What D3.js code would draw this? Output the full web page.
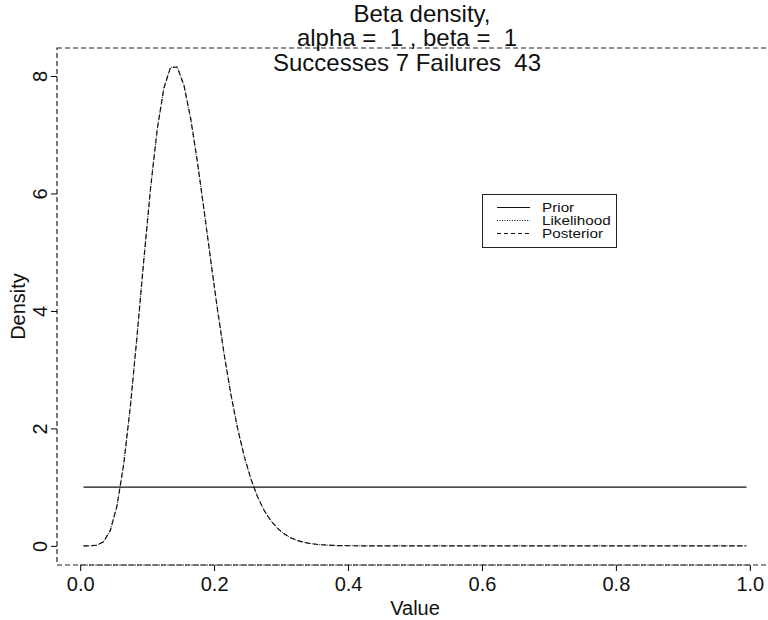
<!DOCTYPE html>
<html>
<head>
    <meta charset="utf-8">
    <title></title>
    <style>
        body { margin: 0; background: #fff; }
        text {
            font-family: "Liberation Sans", Arial, sans-serif;
            fill: #111;
        }
    </style>
</head>
<body>
    <script src="https://cdn.jsdelivr.net/npm/d3@7"></script>
    <script>
        // grid of values the density was evaluated on
        var xValues = [
            0.005, 0.015, 0.025, 0.035, 0.045, 0.055, 0.065, 0.075, 0.085, 0.095,
            0.105, 0.115, 0.125, 0.135, 0.145, 0.155, 0.165, 0.175, 0.185, 0.195,
            0.205, 0.215, 0.225, 0.235, 0.245, 0.255, 0.265, 0.275, 0.285, 0.295,
            0.305, 0.315, 0.325, 0.335, 0.345, 0.355, 0.365, 0.375, 0.385, 0.395,
            0.405, 0.415, 0.425, 0.435, 0.445, 0.455, 0.465, 0.475, 0.485, 0.495,
            0.505, 0.515, 0.525, 0.535, 0.545, 0.555, 0.565, 0.575, 0.585, 0.595,
            0.605, 0.615, 0.625, 0.635, 0.645, 0.655, 0.665, 0.675, 0.685, 0.695,
            0.705, 0.715, 0.725, 0.735, 0.745, 0.755, 0.765, 0.775, 0.785, 0.795,
            0.805, 0.815, 0.825, 0.835, 0.845, 0.855, 0.865, 0.875, 0.885, 0.895,
            0.905, 0.915, 0.925, 0.935, 0.945, 0.955, 0.965, 0.975, 0.985, 0.995
        ];
        var posterior = [
            0, 0.0005, 0.011, 0.071, 0.263, 0.681, 1.388, 2.380, 3.582, 4.864,
            6.078, 7.088, 7.795, 8.149, 8.151, 7.839, 7.277, 6.544, 5.716, 4.859,
            4.028, 3.262, 2.584, 2.004, 1.524, 1.136, 0.832, 0.598, 0.423, 0.294,
            0.201, 0.135, 0.089, 0.058, 0.037, 0.023, 0.015, 0.009, 0.005, 0.003,
            0.002, 0.001, 0, 0, 0, 0, 0, 0, 0, 0,
            0, 0, 0, 0, 0, 0, 0, 0, 0, 0,
            0, 0, 0, 0, 0, 0, 0, 0, 0, 0,
            0, 0, 0, 0, 0, 0, 0, 0, 0, 0,
            0, 0, 0, 0, 0, 0, 0, 0, 0, 0,
            0, 0, 0, 0, 0, 0, 0, 0, 0, 0
        ];
        // flat prior, so the scaled likelihood sits on the posterior
        var likelihood = posterior.slice();
        var priorX = [0.005, 0.995];
        var prior = [1, 1];

        var xTicks = [0, 0.2, 0.4, 0.6, 0.8, 1.0];
        var yTicks = [0, 2, 4, 6, 8];
        var titleLines = ["Beta density,", "alpha =  1 , beta =  1", "Successes 7 Failures  43"];
        var legendNames = ["Prior", "Likelihood", "Posterior"];
        var legendDash = [null, "1,1.5", "4,3"];

        var width = 768,
            height = 620;
        var box = { left: 57, right: 773, top: 48, bottom: 565 };

        var svg = d3.select("body").append("svg")
            .attr("width", width)
            .attr("height", height);

        // R style: 4% padding around the data range
        var x = d3.scaleLinear().domain([-0.0346, 1.0346]).range([box.left, box.right]);
        var y = d3.scaleLinear().domain([-0.326, 8.477]).range([box.bottom, box.top]);

        var line = d3.line()
            .x(function(d) { return x(d[0]); })
            .y(function(d) { return y(d[1]); });

        // plot frame
        svg.append("rect")
            .attr("x", box.left)
            .attr("y", box.top)
            .attr("width", box.right - box.left)
            .attr("height", box.bottom - box.top)
            .attr("fill", "none")
            .attr("stroke", "#222")
            .attr("stroke-width", 1.2)
            .attr("stroke-dasharray", "5,3");

        // x axis
        var xAxis = svg.append("g")
            .attr("transform", "translate(0," + box.bottom + ")")
            .call(d3.axisBottom(x).tickValues(xTicks).tickSize(6).tickPadding(6)
                .tickFormat(d3.format(".1f")));
        xAxis.select(".domain")
            .attr("d", "M" + x(0) + ",0H" + x(1))
            .attr("stroke", "#333")
            .attr("stroke-width", 1.2)
            .attr("stroke-dasharray", "2,1");
        xAxis.selectAll(".tick text")
            .attr("font-size", 20)
            .attr("font-family", "Liberation Sans, Arial, sans-serif")
            .attr("fill", "#111");

        // y axis
        var yAxis = svg.append("g")
            .attr("transform", "translate(" + box.left + ",0)")
            .call(d3.axisLeft(y).tickValues(yTicks).tickSize(6).tickFormat(d3.format("d")));
        yAxis.select(".domain").remove();
        yAxis.selectAll(".tick text")
            .attr("font-size", 20)
            .attr("font-family", "Liberation Sans, Arial, sans-serif")
            .attr("fill", "#111")
            .attr("text-anchor", "middle")
            .attr("dy", null)
            .attr("x", null)
            .attr("transform", "translate(-10,0) rotate(-90)");

        // curves
        var postPts = xValues.map(function(v, i) { return [v, posterior[i]]; });
        var likePts = xValues.map(function(v, i) { return [v, likelihood[i]]; });
        var priorPts = priorX.map(function(v, i) { return [v, prior[i]]; });

        svg.append("path")
            .datum(priorPts)
            .attr("d", line)
            .attr("fill", "none")
            .attr("stroke", "#111")
            .attr("stroke-width", 1.2);
        svg.append("path")
            .datum(likePts)
            .attr("d", line)
            .attr("fill", "none")
            .attr("stroke", "#222")
            .attr("stroke-width", 1)
            .attr("stroke-dasharray", "1,1.5");
        svg.append("path")
            .datum(postPts)
            .attr("d", line)
            .attr("fill", "none")
            .attr("stroke", "#111")
            .attr("stroke-width", 1.2)
            .attr("stroke-dasharray", "5,3");

        // titles
        var titleX = [422, 407, 407];
        svg.selectAll("text.title")
            .data(titleLines)
            .enter().append("text")
            .attr("class", "title")
            .attr("x", function(d, i) { return titleX[i]; })
            .attr("y", function(d, i) { return 21.5 + i * 24.5; })
            .attr("text-anchor", "middle")
            .attr("font-size", 24)
            .style("white-space", "pre")
            .text(function(d) { return d; });

        svg.append("text")
            .attr("x", (box.left + box.right) / 2)
            .attr("y", 615)
            .attr("text-anchor", "middle")
            .attr("font-size", 20)
            .text("Value");
        svg.append("text")
            .attr("transform", "translate(25," + ((box.top + box.bottom) / 2) + ") rotate(-90)")
            .attr("text-anchor", "middle")
            .attr("font-size", 20)
            .text("Density");

        // legend
        var legend = svg.append("g");
        legend.append("rect")
            .attr("x", 482.5)
            .attr("y", 194.5)
            .attr("width", 134)
            .attr("height", 53)
            .attr("fill", "#fff")
            .attr("stroke", "#222");
        legendNames.forEach(function(name, i) {
            var by = 211.5 + i * 13;
            legend.append("line")
                .attr("x1", 497).attr("x2", 530)
                .attr("y1", by - 4).attr("y2", by - 4)
                .attr("stroke", "#111")
                .attr("stroke-dasharray", legendDash[i]);
            // text is tall-narrow squeezed in the original: wider than its height
            legend.append("text")
                .attr("transform", "translate(542," + by + ") scale(1.22,1)")
                .attr("font-size", 12.5)
                .text(name);
        });
    </script>
</body>
</html>
